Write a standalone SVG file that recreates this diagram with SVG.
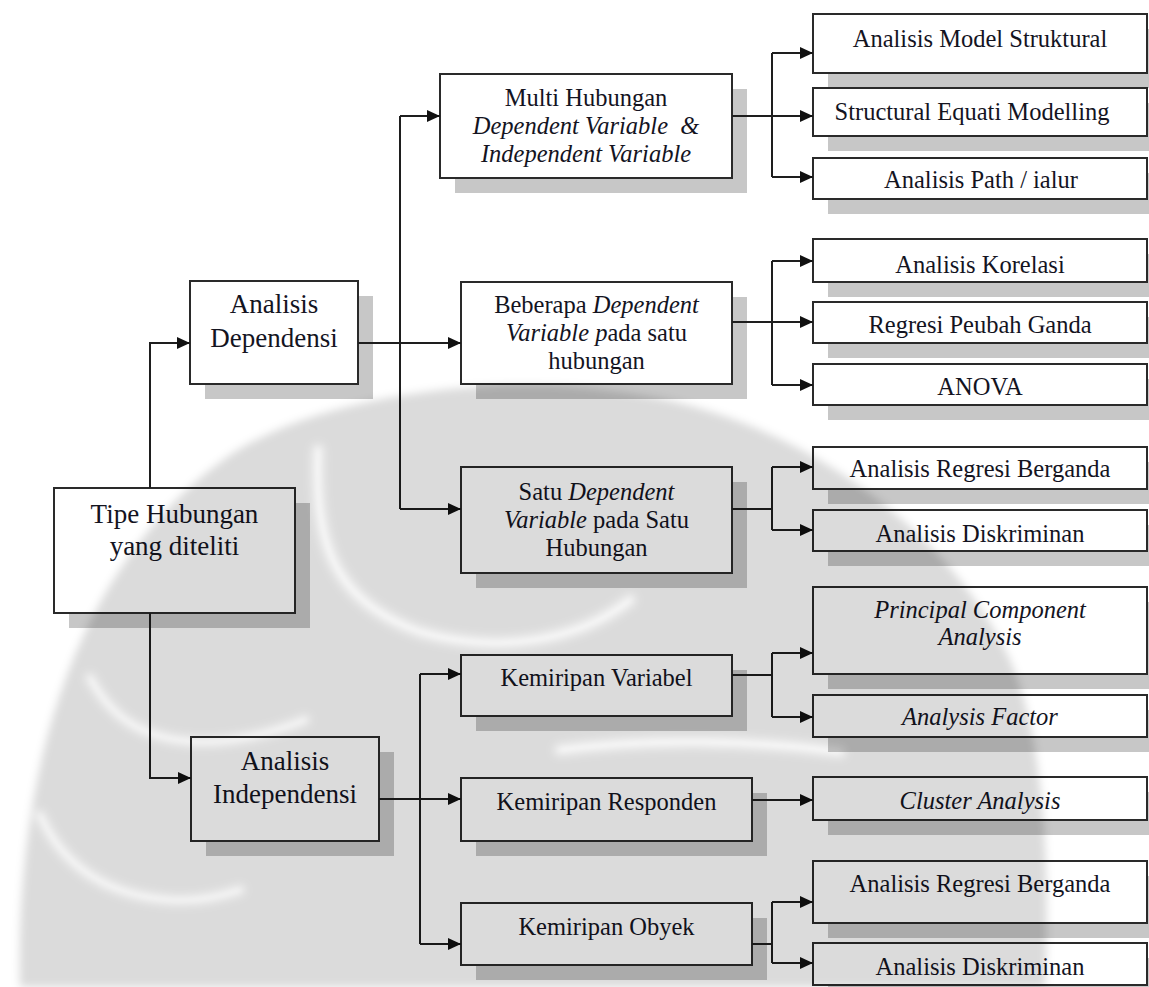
<svg xmlns="http://www.w3.org/2000/svg" width="1149" height="987" viewBox="0 0 1149 987">
  <style>
    .box { fill: #ffffff; stroke: #2a2a2a; stroke-width: 2; }
    .shadow { fill: #000000; fill-opacity: 0.22; }
    .lbl { font-family: "Liberation Serif", "Times New Roman", serif; font-size: 24.5px; fill: #14141f; text-anchor: middle; }
    .big { font-size: 27px; }
    .it { font-style: italic; }
    .wire { fill: none; stroke: #1e1e1e; stroke-width: 2; }
    .arr { marker-end: url(#head); }
  </style>
  <defs>
    <marker id="head" markerUnits="userSpaceOnUse" markerWidth="13" markerHeight="12" refX="13" refY="6" orient="auto">
      <path d="M0,0 L13,6 L0,12 Z" fill="#111111"/>
    </marker>
    <filter id="soften" x="-5%" y="-5%" width="110%" height="110%">
      <feGaussianBlur stdDeviation="4"/>
    </filter>
    <mask id="emblem-mask" maskUnits="userSpaceOnUse" x="0" y="0" width="1149" height="987">
      <g filter="url(#soften)">
        <path d="M 20 987 C 15 760, 80 560, 230 455 C 320 395, 500 370, 640 395 C 800 420, 950 530, 1010 660 C 1045 740, 1050 870, 1045 987 Z" fill="#ffffff"/>
        <g fill="none" stroke="#202020" stroke-linecap="round">
          <path d="M 318 450 C 315 540 330 600 420 632 C 500 655 580 640 630 600" stroke-width="14"/>
          <path d="M 90 678 C 110 715 140 740 200 742 C 240 742 280 730 305 720" stroke-width="12"/>
          <path d="M 40 815 C 60 860 100 895 170 900 C 200 902 225 895 240 890" stroke-width="12"/>
          <path d="M 560 750 C 650 738 750 740 840 752" stroke-width="14"/>
        </g>
      </g>
    </mask>
  </defs>

  <rect x="0" y="0" width="1149" height="987" fill="#ffffff"/>

  <!-- left column -->
  <g id="tipe-hubungan">
    <rect class="shadow" x="69" y="503" width="241" height="125"/>
    <rect class="box" x="54" y="488" width="241" height="125"/>
    <text class="lbl big" x="174.5" y="523">Tipe Hubungan</text>
    <text class="lbl big" x="174.5" y="555">yang diteliti</text>
  </g>
  <g id="analisis-dependensi">
    <rect class="shadow" x="205" y="296" width="168" height="103"/>
    <rect class="box" x="190" y="281" width="168" height="103"/>
    <text class="lbl big" x="274" y="313">Analisis</text>
    <text class="lbl big" x="274" y="347">Dependensi</text>
  </g>
  <g id="analisis-independensi">
    <rect class="shadow" x="206" y="752" width="188" height="104"/>
    <rect class="box" x="191" y="737" width="188" height="104"/>
    <text class="lbl big" x="285" y="770">Analisis</text>
    <text class="lbl big" x="285" y="803">Independensi</text>
  </g>

  <!-- middle column -->
  <g id="multi-hubungan">
    <rect class="shadow" x="455" y="89" width="292" height="104"/>
    <rect class="box" x="440" y="74" width="292" height="104"/>
    <text class="lbl" x="586" y="106">Multi Hubungan</text>
    <text class="lbl it" x="586" y="134">Dependent Variable <tspan dx="6">&amp;</tspan></text>
    <text class="lbl it" x="586" y="162">Independent Variable</text>
  </g>
  <g id="beberapa-dependent">
    <rect class="shadow" x="476" y="297" width="271" height="102"/>
    <rect class="box" x="461" y="282" width="271" height="102"/>
    <text class="lbl" x="596.5" y="313">Beberapa <tspan class="it">Dependent</tspan></text>
    <text class="lbl" x="596.5" y="341"><tspan class="it">Variable p</tspan>ada satu</text>
    <text class="lbl" x="596.5" y="369">hubungan</text>
  </g>
  <g id="satu-dependent">
    <rect class="shadow" x="476" y="482" width="271" height="106"/>
    <rect class="box" x="461" y="467" width="271" height="106"/>
    <text class="lbl" x="596.5" y="500">Satu <tspan class="it">Dependent</tspan></text>
    <text class="lbl" x="596.5" y="528"><tspan class="it">Variable</tspan> pada Satu</text>
    <text class="lbl" x="596.5" y="556">Hubungan</text>
  </g>
  <g id="kemiripan-variabel">
    <rect class="shadow" x="476" y="670" width="271" height="61"/>
    <rect class="box" x="461" y="655" width="271" height="61"/>
    <text class="lbl" x="596.5" y="686">Kemiripan Variabel</text>
  </g>
  <g id="kemiripan-responden">
    <rect class="shadow" x="476" y="793" width="291" height="63"/>
    <rect class="box" x="461" y="778" width="291" height="63"/>
    <text class="lbl" x="606.5" y="810">Kemiripan Responden</text>
  </g>
  <g id="kemiripan-obyek">
    <rect class="shadow" x="476" y="918" width="291" height="62"/>
    <rect class="box" x="461" y="903" width="291" height="62"/>
    <text class="lbl" x="606.5" y="935">Kemiripan Obyek</text>
  </g>

  <!-- right column: methods -->
  <g id="analisis-model-struktural">
    <rect class="shadow" x="828" y="29" width="334" height="59"/>
    <rect class="box" x="813" y="14" width="334" height="59"/>
    <text class="lbl" x="980" y="47">Analisis Model Struktural</text>
  </g>
  <g id="structural-equati-modelling">
    <rect class="shadow" x="828" y="103" width="334" height="48"/>
    <rect class="box" x="813" y="88" width="334" height="48"/>
    <text class="lbl" x="972" y="120">Structural Equati Modelling</text>
  </g>
  <g id="analisis-path">
    <rect class="shadow" x="828" y="173" width="334" height="41"/>
    <rect class="box" x="813" y="158" width="334" height="41"/>
    <text class="lbl" x="981" y="188">Analisis Path / ialur</text>
  </g>
  <g id="analisis-korelasi">
    <rect class="shadow" x="828" y="254" width="334" height="43"/>
    <rect class="box" x="813" y="239" width="334" height="43"/>
    <text class="lbl" x="980" y="273">Analisis Korelasi</text>
  </g>
  <g id="regresi-peubah-ganda">
    <rect class="shadow" x="828" y="317" width="334" height="41"/>
    <rect class="box" x="813" y="302" width="334" height="41"/>
    <text class="lbl" x="980" y="333">Regresi Peubah Ganda</text>
  </g>
  <g id="anova">
    <rect class="shadow" x="828" y="379" width="334" height="41"/>
    <rect class="box" x="813" y="364" width="334" height="41"/>
    <text class="lbl" x="980" y="395">ANOVA</text>
  </g>
  <g id="analisis-regresi-berganda-1">
    <rect class="shadow" x="828" y="462" width="334" height="42"/>
    <rect class="box" x="813" y="447" width="334" height="42"/>
    <text class="lbl" x="980" y="477">Analisis Regresi Berganda</text>
  </g>
  <g id="analisis-diskriminan-1">
    <rect class="shadow" x="828" y="525" width="334" height="41"/>
    <rect class="box" x="813" y="510" width="334" height="41"/>
    <text class="lbl" x="980" y="542">Analisis Diskriminan</text>
  </g>
  <g id="principal-component-analysis">
    <rect class="shadow" x="828" y="602" width="334" height="87"/>
    <rect class="box" x="813" y="587" width="334" height="87"/>
    <text class="lbl it" x="980" y="618">Principal Component</text>
    <text class="lbl it" x="980" y="645">Analysis</text>
  </g>
  <g id="analysis-factor">
    <rect class="shadow" x="828" y="710" width="334" height="42"/>
    <rect class="box" x="813" y="695" width="334" height="42"/>
    <text class="lbl it" x="980" y="725">Analysis Factor</text>
  </g>
  <g id="cluster-analysis">
    <rect class="shadow" x="828" y="792" width="334" height="43"/>
    <rect class="box" x="813" y="777" width="334" height="43"/>
    <text class="lbl it" x="980" y="809">Cluster Analysis</text>
  </g>
  <g id="analisis-regresi-berganda-2">
    <rect class="shadow" x="828" y="876" width="334" height="62"/>
    <rect class="box" x="813" y="861" width="334" height="62"/>
    <text class="lbl" x="980" y="892">Analisis Regresi Berganda</text>
  </g>
  <g id="analisis-diskriminan-2">
    <rect class="shadow" x="828" y="958" width="334" height="42"/>
    <rect class="box" x="813" y="943" width="334" height="42"/>
    <text class="lbl" x="980" y="975">Analisis Diskriminan</text>
  </g>

  <!-- connectors -->
  <g id="connectors">
    <path class="wire arr" d="M150 488 V343 H190"/>
    <path class="wire arr" d="M150 613 V778 H191"/>

    <path class="wire arr" d="M358 343 H461"/>
    <path class="wire" d="M400 116 V509"/>
    <path class="wire arr" d="M400 116 H440"/>
    <path class="wire arr" d="M400 509 H461"/>

    <path class="wire arr" d="M379 799 H461"/>
    <path class="wire" d="M420 674 V944"/>
    <path class="wire arr" d="M420 674 H461"/>
    <path class="wire arr" d="M420 944 H461"/>

    <path class="wire" d="M732 116 H772 M772 53 V177"/>
    <path class="wire arr" d="M772 53 H813"/>
    <path class="wire arr" d="M772 116 H813"/>
    <path class="wire arr" d="M772 177 H813"/>

    <path class="wire" d="M732 322 H772 M772 261 V385"/>
    <path class="wire arr" d="M772 261 H813"/>
    <path class="wire arr" d="M772 322 H813"/>
    <path class="wire arr" d="M772 385 H813"/>

    <path class="wire" d="M732 509 H772 M772 467 V530"/>
    <path class="wire arr" d="M772 467 H813"/>
    <path class="wire arr" d="M772 530 H813"/>

    <path class="wire" d="M732 675 H772 M772 653 V717"/>
    <path class="wire arr" d="M772 653 H813"/>
    <path class="wire arr" d="M772 717 H813"/>

    <path class="wire arr" d="M752 800 H813"/>

    <path class="wire" d="M752 944 H772 M772 902 V963"/>
    <path class="wire arr" d="M772 902 H813"/>
    <path class="wire arr" d="M772 963 H813"/>
  </g>

  <!-- faint emblem behind the lower half of the page -->
  <g id="emblem">
    <rect x="0" y="0" width="1149" height="987" fill="#000000" fill-opacity="0.14" mask="url(#emblem-mask)"/>
  </g>
</svg>
